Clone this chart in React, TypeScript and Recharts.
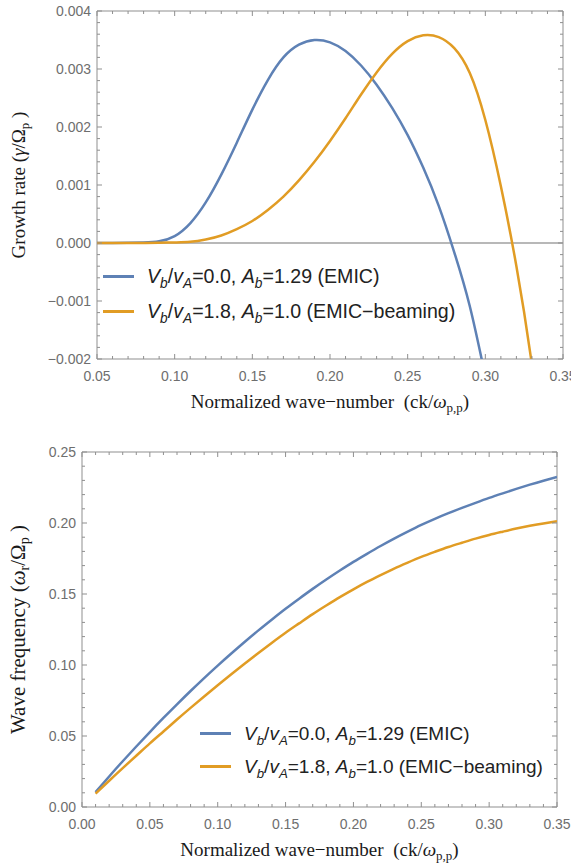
import React from 'react';
import { LineChart, Line, XAxis, YAxis, ReferenceArea, ReferenceLine, Legend, Label } from 'recharts';

const BLUE = '#5e81b5';
const ORANGE = '#e19c24';
const FRAME = '#8f8f8f';
const TICK_TEXT = '#6e6e6e';
const SANS = '"Liberation Sans", Arial, sans-serif';
const SERIF = '"Liberation Serif", "Times New Roman", serif';

// growth rate panel (gamma / Omega_p vs ck/omega_pp)
const kGrowth = [
  0.05, 0.06, 0.07, 0.08, 0.09, 0.1, 0.11, 0.12, 0.13, 0.14, 0.15, 0.16, 0.17, 0.18, 0.19, 0.2,
  0.21, 0.22, 0.23, 0.24, 0.25, 0.26, 0.27, 0.28, 0.29, 0.3, 0.31, 0.32, 0.33, 0.34,
];
const gammaEmic = [
  0, 0, 0.000003, 0.00001, 0.00003, 0.00012, 0.00034, 0.0007, 0.00118, 0.00173, 0.0023, 0.00281,
  0.0032, 0.00342, 0.0035, 0.00346, 0.00331, 0.00306, 0.00273, 0.00233, 0.00186, 0.0013, 0.00064,
  -0.00016, -0.00109, -0.0023, null, null, null, null,
];
const gammaBeam = [
  0, 0, 0, 0.000001, 0.000004, 0.00001, 0.00002, 0.00006, 0.00013, 0.00024, 0.00038, 0.00057,
  0.0008, 0.00108, 0.0014, 0.00176, 0.00215, 0.00256, 0.00294, 0.00326, 0.00348, 0.00358, 0.00355,
  0.00336, 0.00293, 0.00212, 0.00098, -0.0004, -0.0021, -0.0042,
];

// real frequency panel (omega_r / Omega_p)
const kFreq = [
  0.01, 0.02, 0.03, 0.04, 0.05, 0.06, 0.07, 0.08, 0.09, 0.1, 0.11, 0.12, 0.13, 0.14, 0.15, 0.16,
  0.17, 0.18, 0.19, 0.2, 0.21, 0.22, 0.23, 0.24, 0.25, 0.26, 0.27, 0.28, 0.29, 0.3, 0.31, 0.32,
  0.33, 0.34, 0.35,
];
const omegaEmic = [
  0.0105, 0.0215, 0.0322, 0.0426, 0.0528, 0.0627, 0.0723, 0.0817, 0.0908, 0.0996, 0.1081, 0.1164,
  0.1244, 0.1321, 0.1396, 0.1467, 0.1536, 0.1602, 0.1665, 0.1726, 0.1783, 0.1838, 0.189, 0.1939,
  0.1986, 0.2029, 0.2069, 0.2106, 0.2142, 0.2177, 0.2209, 0.224, 0.227, 0.2298, 0.2324,
];
const omegaBeam = [
  0.0094, 0.0185, 0.0274, 0.0361, 0.0448, 0.0532, 0.0616, 0.0698, 0.0778, 0.0857, 0.0935, 0.1011,
  0.1085, 0.1157, 0.1227, 0.1293, 0.1358, 0.1419, 0.1478, 0.1533, 0.1585, 0.1633, 0.1679, 0.1721,
  0.1761, 0.1797, 0.1831, 0.1861, 0.189, 0.1916, 0.1939, 0.1961, 0.198, 0.1997, 0.2012,
];

// legend entries
const legendColors = [BLUE, ORANGE];
const legendVb = ['0.0', '1.8'];
const legendAb = ['1.29', '1.0'];
const legendTags = ['EMIC', 'EMIC\u2212beaming'];

// axis ranges
const growthX = [0.05, 0.35];
const growthY = [-0.002, 0.004];
const freqX = [0, 0.35];
const freqY = [0, 0.25];

const steps = (from: number, to: number, step: number) => {
  const out: number[] = [];
  const n = Math.round((to - from) / step);
  for (let i = 0; i <= n; i++) out.push(+(from + i * step).toFixed(6));
  return out;
};

const growthXTicks = steps(0.05, 0.35, 0.01);
const growthYTicks = steps(-0.002, 0.004, 0.0002);
const freqXTicks = steps(0, 0.35, 0.01);
const freqYTicks = steps(0, 0.25, 0.01);

const growthData = kGrowth.map((k, i) => ({ k, emic: gammaEmic[i], beam: gammaBeam[i] }));
const freqData = kFreq.map((k, i) => ({ k, emic: omegaEmic[i], beam: omegaBeam[i] }));

const isMajor = (v: number, step: number) => Math.abs(v / step - Math.round(v / step)) < 1e-6;
const fmt = (v: number, digits: number) => v.toFixed(digits).replace('-', '\u2212');

const XTick = (props: any) => {
  const { x, y, payload, top, step, digits } = props;
  const major = isMajor(payload.value, step);
  const len = major ? 5 : 3;
  return (
    <g>
      <line x1={x} y1={y} x2={x} y2={y - len} stroke={FRAME} />
      <line x1={x} y1={top} x2={x} y2={top + len} stroke={FRAME} />
      {major && (
        <text x={x} y={y + 22} textAnchor="middle" fill={TICK_TEXT} fontSize={14} fontFamily={SANS}>
          {fmt(payload.value, digits)}
        </text>
      )}
    </g>
  );
};

const YTick = (props: any) => {
  const { x, y, payload, right, step, digits } = props;
  const major = isMajor(payload.value, step);
  const len = major ? 5 : 3;
  return (
    <g>
      <line x1={x} y1={y} x2={x + len} y2={y} stroke={FRAME} />
      <line x1={right} y1={y} x2={right - len} y2={y} stroke={FRAME} />
      {major && (
        <text x={x - 6} y={y + 5} textAnchor="end" fill={TICK_TEXT} fontSize={14} fontFamily={SANS}>
          {fmt(payload.value, digits)}
        </text>
      )}
    </g>
  );
};

const XTitle = (props: any) => {
  const { viewBox } = props;
  const cx = viewBox.x + viewBox.width / 2;
  return (
    <text x={cx} y={viewBox.y + 49} textAnchor="middle" fontFamily={SERIF} fontSize={19} fill="#1a1a1a">
      Normalized wave{'\u2212'}number{'\u00a0\u00a0'}(ck/<tspan fontStyle="italic">{'\u03c9'}</tspan>
      <tspan dy={4} fontSize={13}>p,p</tspan>
      <tspan dy={-4}>)</tspan>
    </text>
  );
};

const YTitle = (props: any) => {
  const { viewBox, head, sym, sub1, size } = props;
  const cy = viewBox.y + viewBox.height / 2;
  const x = viewBox.x + 25;
  const fs = size || 19;
  return (
    <text x={x} y={cy} transform={`rotate(-90 ${x} ${cy})`} textAnchor="middle" fontFamily={SERIF} fontSize={fs} fill="#1a1a1a">
      {head}
      <tspan fontStyle="italic">{sym}</tspan>
      {sub1 && <tspan dy={4} fontSize={fs * 0.68}>{sub1}</tspan>}
      <tspan dy={sub1 ? -4 : 0}>/{'\u03a9'}</tspan>
      <tspan dy={4} fontSize={fs * 0.68}>p</tspan>
      <tspan dy={-4}>{'\u00a0'})</tspan>
    </text>
  );
};

const Sub = ({ children }: { children: React.ReactNode }) => (
  <sub style={{ fontSize: '0.7em', fontStyle: 'italic', verticalAlign: '-0.35em', lineHeight: 0 }}>{children}</sub>
);

const LegendBox = ({ rowHeight, size }: { rowHeight: number; size: number }) => (
  <div>
    {legendColors.map((c, i) => (
      <div key={i} style={{ display: 'flex', alignItems: 'center', height: rowHeight }}>
        <div style={{ width: 31, height: 3, background: c, marginRight: 13 }} />
        <span style={{ fontFamily: SANS, fontSize: size, color: '#222', whiteSpace: 'nowrap' }}>
          <i>V</i>
          <Sub>b</Sub>/<i>v</i>
          <Sub>A</Sub>={legendVb[i]}, <i>A</i>
          <Sub>b</Sub>={legendAb[i]} ({legendTags[i]})
        </span>
      </div>
    ))}
  </div>
);

const GrowthChart = () => (
  <LineChart width={571} height={420} data={growthData} margin={{ top: 11, right: 8, bottom: 0, left: 0 }}>
    <XAxis
      type="number"
      dataKey="k"
      domain={growthX}
      allowDataOverflow
      ticks={growthXTicks}
      interval={0}
      height={61}
      axisLine={false}
      tickLine={false}
      tickSize={0}
      tickMargin={0}
      tick={<XTick top={11} step={0.05} digits={2} />}
    >
      <Label content={<XTitle />} />
    </XAxis>
    <YAxis
      type="number"
      domain={growthY}
      allowDataOverflow
      ticks={growthYTicks}
      interval={0}
      width={97}
      axisLine={false}
      tickLine={false}
      tickSize={0}
      tickMargin={0}
      tick={<YTick right={563} step={0.001} digits={3} />}
    >
      <Label content={<YTitle head="Growth rate (" sym={'\u03b3'} size={19} />} />
    </YAxis>
    <ReferenceArea x1={growthX[0]} x2={growthX[1]} y1={growthY[0]} y2={growthY[1]} fill="none" stroke={FRAME} />
    <ReferenceLine y={0} stroke="#a0a0a0" strokeWidth={1.3} />
    <Line type="natural" dataKey="emic" stroke={BLUE} strokeWidth={2.5} dot={false} activeDot={false} isAnimationActive={false} />
    <Line type="natural" dataKey="beam" stroke={ORANGE} strokeWidth={2.5} dot={false} activeDot={false} isAnimationActive={false} />
    <Legend
      layout="vertical"
      align="center"
      verticalAlign="middle"
      wrapperStyle={{ left: 103, top: 259, width: 'auto' }}
      content={() => <LegendBox rowHeight={35} size={19.6} />}
    />
  </LineChart>
);

const FreqChart = () => (
  <LineChart width={571} height={437} data={freqData} margin={{ top: 22, right: 14, bottom: 0, left: 0 }}>
    <XAxis
      type="number"
      dataKey="k"
      domain={freqX}
      allowDataOverflow
      ticks={freqXTicks}
      interval={0}
      height={60}
      axisLine={false}
      tickLine={false}
      tickSize={0}
      tickMargin={0}
      tick={<XTick top={22} step={0.05} digits={2} />}
    >
      <Label content={<XTitle />} />
    </XAxis>
    <YAxis
      type="number"
      domain={freqY}
      allowDataOverflow
      ticks={freqYTicks}
      interval={0}
      width={82}
      axisLine={false}
      tickLine={false}
      tickSize={0}
      tickMargin={0}
      tick={<YTick right={557} step={0.05} digits={2} />}
    >
      <Label content={<YTitle head="Wave frequency (" sym={'\u03c9'} sub1="r" size={21} />} />
    </YAxis>
    <ReferenceArea x1={freqX[0]} x2={freqX[1]} y1={freqY[0]} y2={freqY[1]} fill="none" stroke={FRAME} />
    <Line type="natural" dataKey="emic" stroke={BLUE} strokeWidth={2.5} dot={false} activeDot={false} isAnimationActive={false} />
    <Line type="natural" dataKey="beam" stroke={ORANGE} strokeWidth={2.5} dot={false} activeDot={false} isAnimationActive={false} />
    <Legend
      layout="vertical"
      align="center"
      verticalAlign="middle"
      wrapperStyle={{ left: 200, top: 287, width: 'auto' }}
      content={() => <LegendBox rowHeight={33} size={19} />}
    />
  </LineChart>
);

export default function App() {
  return (
    <div style={{ position: 'absolute', left: 0, top: 0, width: 571, height: 867, background: '#fff', overflow: 'hidden' }}>
      <div style={{ position: 'absolute', left: 0, top: 0 }}>
        <GrowthChart />
      </div>
      <div style={{ position: 'absolute', left: 0, top: 430 }}>
        <FreqChart />
      </div>
    </div>
  );
}
